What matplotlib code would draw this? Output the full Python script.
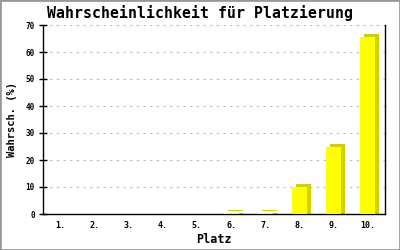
import matplotlib
matplotlib.use("Agg")
import matplotlib.pyplot as plt
import matplotlib.transforms as mtransforms

# data
plaetze = ["1.", "2.", "3.", "4.", "5.", "6.", "7.", "8.", "9.", "10."]
wahrsch = [0, 0, 0, 0, 0, 0.5, 0.5, 9.9, 24.9, 65.7]
yticks = [0, 10, 20, 30, 40, 50, 60, 70]

font = "DejaVu Sans Mono"

fig = plt.figure(figsize=(4, 2.5), dpi=100)
ax = fig.add_axes([0.1075, 0.144, 0.855, 0.756])

x = list(range(1, len(plaetze) + 1))

# darker side/top: shifted copies (right+up, and right only down to the base)
side = "#d4d000"
shift_up = mtransforms.offset_copy(ax.transData, fig=fig, x=4, y=3, units="dots")
shift_r = mtransforms.offset_copy(ax.transData, fig=fig, x=4, y=0, units="dots")
ax.bar(x, wahrsch, width=0.44, color=side, transform=shift_up, zorder=2)
ax.bar(x, wahrsch, width=0.44, color=side, transform=shift_r, zorder=2)
ax.bar(x, wahrsch, width=0.44, color="#ffff00", zorder=3)

ax.set_xlim(0.5, 10.5)
ax.set_ylim(0, 70)
ax.set_xticks(x)
ax.set_xticklabels(plaetze, fontsize=6, fontfamily=font, fontweight="bold")
ax.set_yticks(yticks)
ax.set_yticklabels([str(v) for v in yticks], fontsize=5.5, fontfamily=font,
                   fontweight="bold")
ax.tick_params(axis="y", direction="inout", length=6, width=1, pad=3)
ax.tick_params(axis="x", length=0, pad=5)

ax.grid(axis="y", color="#bbbbbb", linestyle=(0, (2, 4)), linewidth=0.8, zorder=0)
ax.set_axisbelow(True)
ax.spines["top"].set_visible(False)
for s in ("left", "right", "bottom"):
    ax.spines[s].set_color("black")
    ax.spines[s].set_linewidth(1)

ax.set_xlabel("Platz", fontsize=8.5, fontfamily=font, fontweight="bold", labelpad=2)
ax.set_ylabel("Wahrsch. (%)", fontsize=7.5, fontfamily=font, fontweight="bold",
              labelpad=6)
fig.suptitle("Wahrscheinlichkeit für Platzierung", fontsize=10.7, fontfamily=font,
             fontweight="bold", y=0.98)

# gray frame round the picture
fig.patches.append(plt.Rectangle((0, 0), 1, 1, transform=fig.transFigure,
                                 fill=False, edgecolor="#999999", linewidth=2))

fig.savefig("out.png", dpi=100)
